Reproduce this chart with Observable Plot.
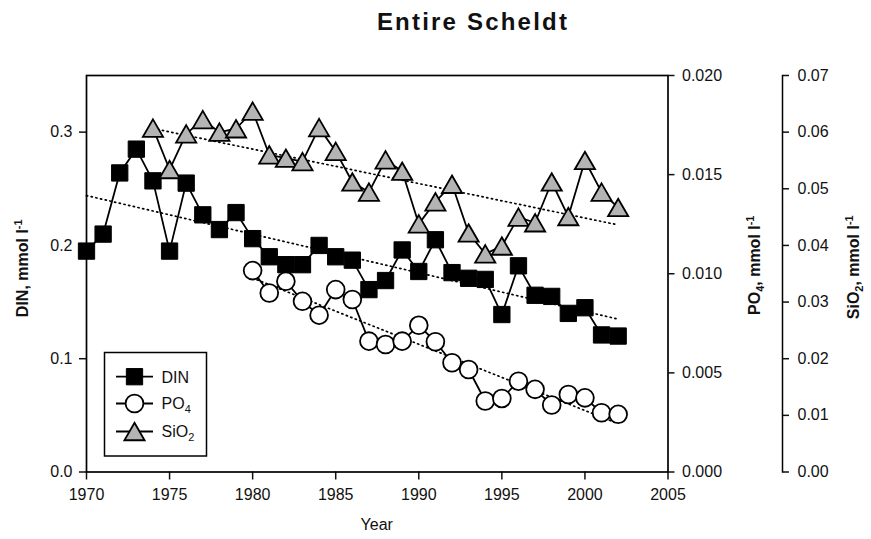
<!DOCTYPE html>
<html>
<head>
<meta charset="utf-8">
<script src="https://cdn.jsdelivr.net/npm/d3@7"></script>
<script src="https://cdn.jsdelivr.net/npm/@observablehq/plot@0.6"></script>
<style>
  html, body { margin: 0; padding: 0; background: #fff; }
  #wrap { position: relative; width: 871px; height: 539px; overflow: hidden; font-family: "Liberation Sans", Arial, sans-serif; }
  #title { position: absolute; left: 0; top: 10px; width: 946px; text-align: center; font-size: 24px; line-height: 24px; font-weight: bold; letter-spacing: 2.2px; color: #111; }
  #chart { position: absolute; left: 0; top: 55px; }
</style>
</head>
<body>
<div id="wrap">
  <div id="title">Entire Scheldt</div>
  <div id="chart"></div>
</div>
<script>
// ---- data ----
const dinYears = [1970,1971,1972,1973,1974,1975,1976,1977,1978,1979,1980,1981,1982,1983,1984,1985,1986,1987,1988,1989,1990,1991,1992,1993,1994,1995,1996,1997,1998,1999,2000,2001,2002];
const dinValues = [0.195,0.210,0.264,0.285,0.257,0.195,0.255,0.227,0.214,0.229,0.206,0.190,0.183,0.183,0.200,0.190,0.187,0.161,0.169,0.196,0.177,0.205,0.176,0.171,0.170,0.139,0.182,0.156,0.155,0.140,0.145,0.121,0.120];

const po4Years = [1980,1981,1982,1983,1984,1985,1986,1987,1988,1989,1990,1991,1992,1993,1994,1995,1996,1997,1998,1999,2000,2001,2002];
const po4Values = [0.01016,0.00903,0.00962,0.00861,0.00791,0.00920,0.00870,0.00660,0.00643,0.00660,0.00740,0.00657,0.00551,0.00517,0.00358,0.00371,0.00458,0.00417,0.00338,0.00391,0.00374,0.00299,0.00291];

const sio2Years = [1974,1975,1976,1977,1978,1979,1980,1981,1982,1983,1984,1985,1986,1987,1988,1989,1990,1991,1992,1993,1994,1995,1996,1997,1998,1999,2000,2001,2002];
const sio2Values = [0.0607,0.0534,0.0597,0.0622,0.0600,0.0606,0.0637,0.0560,0.0554,0.0548,0.0608,0.0566,0.0512,0.0494,0.0551,0.0531,0.0438,0.0477,0.0508,0.0422,0.0385,0.0399,0.0450,0.0440,0.0512,0.0451,0.0550,0.0494,0.0467];

const xTicks = [1970,1975,1980,1985,1990,1995,2000,2005];
const dinTicks = [0.0,0.1,0.2,0.3];
const po4Ticks = [0.000,0.005,0.010,0.015,0.020];
const sio2Ticks = [0.00,0.01,0.02,0.03,0.04,0.05,0.06,0.07];

const xDomain = [1970, 2005];
const dinMax = 0.35, po4Max = 0.020, sio2Max = 0.07;

// ---- build tables (secondary axes mapped onto the DIN scale) ----
const po4k = dinMax / po4Max;
const sik = dinMax / sio2Max;
const din = dinYears.map((year, i) => ({year, v: dinValues[i]}));
const po4 = po4Years.map((year, i) => ({year, v: po4Values[i] * po4k}));
const sio2 = sio2Years.map((year, i) => ({year, v: sio2Values[i] * sik}));

const FONT = "'Liberation Sans', Arial, sans-serif";
const gray = "#b4b4b4";
const dotted = {stroke: "black", strokeWidth: 1.7, strokeDasharray: "1.2,3.6", ci: 0};
const lineOpt = {x: "year", y: "v", stroke: "black", strokeWidth: 1.8};
const axisFont = {fontSize: 16, strokeWidth: 1.5, label: null};

const plot = Plot.plot({
  width: 871,
  height: 484,
  marginLeft: 86,
  marginRight: 203.5,
  marginTop: 20,
  marginBottom: 67.5,
  style: {fontFamily: FONT, fontSize: "16px", color: "#111", background: "white", overflow: "visible"},
  x: {domain: xDomain},
  y: {domain: [0, dinMax]},
  marks: [
    Plot.axisX({ticks: xTicks, tickFormat: d => String(d), tickSize: 8, tickPadding: 9, ...axisFont}),
    Plot.axisY({anchor: "left", ticks: dinTicks, tickFormat: d => d.toFixed(1), tickSize: 7, tickPadding: 7, ...axisFont}),
    Plot.axisY({anchor: "right", ticks: po4Ticks.map(d => d * po4k), tickFormat: d => (d / po4k).toFixed(3), tickSize: 6, tickPadding: 8, ...axisFont}),
    Plot.axisY({anchor: "right", ticks: sio2Ticks.map(d => d * sik), tickFormat: d => (d / sik).toFixed(2), tickSize: 6, tickPadding: 9, dx: 114.5, ...axisFont}),
    Plot.frame({anchor: "right", dx: 114.5, stroke: "black", strokeWidth: 1.5}),
    Plot.frame({stroke: "black", strokeWidth: 1.7}),
    // trend lines
    Plot.linearRegressionY(din, {x: "year", y: "v", ...dotted}),
    Plot.linearRegressionY(po4, {x: "year", y: "v", ...dotted}),
    Plot.linearRegressionY(sio2, {x: "year", y: "v", ...dotted}),
    // DIN
    Plot.line(din, lineOpt),
    Plot.dot(din, {x: "year", y: "v", symbol: "square", r: 9.2, fill: "black", stroke: "black", strokeWidth: 1}),
    // PO4
    Plot.line(po4, lineOpt),
    Plot.dot(po4, {x: "year", y: "v", symbol: "circle", r: 8.9, fill: "white", stroke: "black", strokeWidth: 1.8}),
    // SiO2
    Plot.line(sio2, lineOpt),
    Plot.dot(sio2, {x: "year", y: "v", symbol: "triangle", r: 7.5, dy: 2.9, fill: gray, stroke: "black", strokeWidth: 1.8})
  ]
});

document.getElementById("chart").appendChild(plot);

// ---- axis titles and legend ----
const svg = d3.select(plot);
const xs = plot.scale("x"), ys = plot.scale("y");
const midY = (ys.range[0] + ys.range[1]) / 2;
const midX = (xs.range[0] + xs.range[1]) / 2;

function axisTitle(x, y, parts) {
  const t = svg.append("text")
    .attr("transform", `translate(${x},${y}) rotate(-90)`)
    .attr("text-anchor", "middle")
    .attr("font-family", FONT)
    .attr("font-size", 16)
    .attr("font-weight", "bold")
    .attr("fill", "#111");
  parts.forEach(([txt, kind]) => {
    const s = t.append("tspan").text(txt);
    if (kind === "sup") s.attr("font-size", 11).attr("baseline-shift", "6");
    if (kind === "sub") s.attr("font-size", 11).attr("baseline-shift", "-4");
  });
}
axisTitle(28, midY - 5, [["DIN, mmol l"], ["-1", "sup"]]);
axisTitle(760, midY - 8, [["PO"], ["4", "sub"], [", mmol l"], ["-1", "sup"]]);
axisTitle(859, midY - 6, [["SiO"], ["2", "sub"], [", mmol l"], ["-1", "sup"]]);

svg.append("text")
  .attr("x", midX).attr("y", 475)
  .attr("text-anchor", "middle")
  .attr("font-family", FONT).attr("font-size", 16).attr("fill", "#111")
  .text("Year");

// legend
const lg = svg.append("g");
lg.append("rect").attr("x", 104.5).attr("y", 297.5).attr("width", 102).attr("height", 103.5)
  .attr("fill", "white").attr("stroke", "black").attr("stroke-width", 1.5);
const items = [
  {name: [["DIN"]], sym: d3.symbolSquare, size: 9.2 * 9.2 * Math.PI, fill: "black", sw: 1, dy: 0},
  {name: [["PO"], ["4", "sub"]], sym: d3.symbolCircle, size: 8.9 * 8.9 * Math.PI, fill: "white", sw: 1.8, dy: 0},
  {name: [["SiO"], ["2", "sub"]], sym: d3.symbolTriangle, size: 7.5 * 7.5 * Math.PI, fill: gray, sw: 1.8, dy: 2.9}
];
const rowY = [321.7, 348.5, 376.5];
items.forEach((it, i) => {
  const y = rowY[i];
  lg.append("line").attr("x1", 116).attr("x2", 153).attr("y1", y).attr("y2", y)
    .attr("stroke", "black").attr("stroke-width", 1.8);
  lg.append("path").attr("d", d3.symbol(it.sym, it.size)())
    .attr("transform", `translate(134.5,${y + it.dy})`)
    .attr("fill", it.fill).attr("stroke", "black").attr("stroke-width", it.sw);
  const t = lg.append("text").attr("x", 161.5).attr("y", y + 5.8)
    .attr("text-anchor", "start")
    .attr("font-family", FONT).attr("font-size", 16).attr("fill", "#111");
  it.name.forEach(([txt, kind]) => {
    const s = t.append("tspan").text(txt);
    if (kind === "sub") s.attr("font-size", 11).attr("baseline-shift", "-4");
  });
});
</script>
</body>
</html>
